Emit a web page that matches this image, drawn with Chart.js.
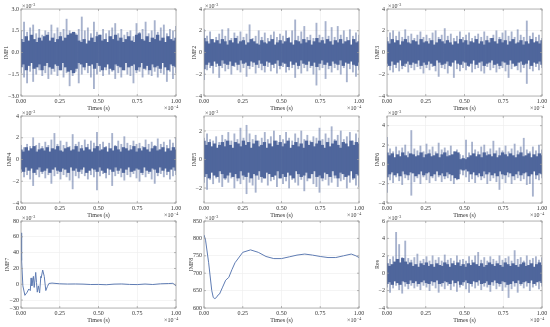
<!DOCTYPE html>
<html>
<head>
<meta charset="utf-8">
<title>IMF decomposition</title>
<script src="https://cdn.jsdelivr.net/npm/chart.js@4"></script>
<style>
  html, body { margin: 0; padding: 0; background: #fff; }
  body { position: relative; width: 550px; height: 327px; overflow: hidden; }
  canvas { position: absolute; }
</style>
</head>
<body>
<script>
// spike tips and dense core of each noisy panel (x10^-3)
const imf1Up = [1.5,2.1,1.4,1.7,1.9,1.3,1.6,1.2,1.5,1.4,1.9,1.3,1.7,1.4,1.6,2.3,1.5,1.1,1.3,1.6,2.45,1.5,1.7,1.3,2.1,1.4,1.2,1.6,1.3,1.5,1.7,2.0,1.3,1.6,1.2,1.4,1.5,1.1,2.0,1.4,1.6,2.1,1.3,1.5,2.2,1.4,1.7,1.9,1.3,1.6,1.5,1.8];
const imf1Lo = [-1.4,-1.7,-2.1,-1.3,-2.0,-1.5,-1.2,-1.6,-1.4,-1.8,-1.5,-1.3,-1.6,-1.2,-1.7,-1.4,-2.3,-1.6,-1.3,-2.1,-1.5,-1.2,-1.4,-1.7,-2.5,-1.5,-1.3,-1.6,-1.2,-1.5,-1.3,-1.8,-1.4,-1.7,-1.2,-1.5,-1.6,-2.1,-1.4,-1.3,-1.7,-1.2,-1.5,-1.6,-1.3,-1.7,-1.4,-1.5,-2.0,-1.3,-1.8,-1.4];
const imf1CoreUp = [0.9,0.7,1.1,0.8,1.2,0.9,0.7,1.0,0.8,1.1,1.2,0.8,1.0,0.7,0.9,1.1,0.8,1.0,1.2,1.3,1.4,1.2,0.8,0.7,0.9,0.6,0.8,1.0,0.7,1.1,1.2,0.8,0.9,0.7,1.1,0.9,1.2,0.8,1.0,0.7,0.9,1.1,0.8,0.7,1.2,1.3,0.9,0.8,1.1,0.7,1.0,0.9,1.2,0.8,1.0,0.7,1.1,0.9,0.8,1.0];
const imf1CoreLo = [-1.0,-0.8,-1.2,-0.9,-0.7,-1.1,-1.0,-0.8,-1.2,-0.9,-0.7,-1.0,-1.1,-0.8,-0.9,-1.2,-0.7,-1.0,-1.3,-1.2,-1.4,-1.1,-0.7,-0.8,-1.0,-0.7,-0.9,-0.8,-1.1,-0.7,-0.9,-1.2,-1.0,-0.8,-1.1,-1.2,-0.8,-0.9,-1.0,-1.2,-0.7,-1.0,-0.9,-0.8,-1.2,-1.0,-0.7,-1.1,-0.9,-1.2,-0.8,-1.0,-0.9,-1.1,-0.7,-1.0,-1.2,-0.8,-0.9,-1.0];

const imf2Up = [2.1,1.5,1.9,1.2,1.4,1.7,2.1,1.5,2.2,1.3,1.8,1.5,1.9,1.4,1.7,2.55,1.3,1.5,2.0,1.4,1.8,1.3,1.6,1.9,1.4,1.7,1.5,2.0,1.4,2.0,3.0,1.5,1.9,2.4,1.4,1.6,1.3,2.7,1.6,1.4,2.85,1.5,2.3,1.4,2.4,1.6,2.0,1.4,2.1,1.5,1.8,1.6];
const imf2Lo = [-2.5,-1.6,-1.4,-1.9,-1.3,-2.3,-1.4,-1.7,-1.5,-2.0,-1.3,-1.6,-1.8,-1.4,-2.2,-1.5,-1.3,-1.9,-1.4,-1.6,-1.8,-1.3,-1.7,-1.4,-1.9,-1.5,-1.3,-1.8,-1.6,-1.4,-2.3,-1.5,-1.9,-1.4,-1.7,-1.4,-2.0,-3.0,-1.6,-1.4,-2.4,-1.5,-1.8,-1.4,-1.6,-2.0,-1.4,-2.7,-1.5,-1.8,-2.2,-1.6];
const imf2CoreUp = [1.3,1.0,0.8,1.2,0.9,1.1,0.8,1.2,1.0,0.7,1.1,0.9,1.3,0.8,1.0,1.1,0.7,0.9,1.2,1.0,0.8,0.7,1.1,0.9,0.8,1.0,1.2,0.7,0.9,1.1,0.8,1.0,1.3,0.9,0.7,1.1,1.0,0.8,1.2,0.9,1.1,0.7,1.0,1.3,0.9,1.1,0.8,1.2,1.0,0.7,1.1,0.9,1.2,0.8,1.0,1.1,0.7,1.2,0.9,1.0];
const imf2CoreLo = [-1.5,-1.1,-0.9,-1.2,-0.8,-1.0,-1.2,-0.7,-1.0,-1.1,-0.8,-1.2,-0.9,-1.1,-0.7,-1.0,-0.9,-1.2,-0.8,-0.9,-1.1,-0.7,-1.0,-1.2,-0.8,-0.9,-1.1,-1.0,-0.7,-1.2,-0.9,-1.0,-1.3,-0.8,-1.1,-0.9,-1.2,-0.7,-1.0,-1.1,-0.8,-1.2,-0.9,-1.3,-1.0,-0.7,-1.1,-0.9,-1.2,-0.8,-1.0,-1.1,-0.7,-1.2,-0.9,-1.0,-0.8,-1.1,-1.2,-0.9];

const imf3Up = [1.4,1.8,2.0,1.5,1.9,1.4,2.1,1.5,1.7,1.3,1.6,1.9,1.4,1.6,1.3,1.8,2.0,1.4,1.6,2.2,1.5,1.7,1.3,1.5,1.9,1.4,1.6,1.8,1.3,1.5,1.7,1.4,1.9,1.5,1.3,1.6,2.0,1.4,1.8,2.0,1.5,1.9,1.4,2.1,1.6,1.4,2.9,1.5,1.8,1.4,1.6,1.3];
const imf3Lo = [-1.3,-1.6,-1.8,-1.4,-1.7,-1.5,-1.3,-1.8,-1.4,-1.6,-1.3,-1.5,-1.9,-1.4,-1.6,-1.3,-1.7,-2.2,-1.4,-1.5,-1.9,-1.3,-2.3,-1.5,-1.7,-1.4,-1.6,-1.3,-1.8,-1.5,-1.4,-1.7,-1.9,-1.3,-1.6,-1.4,-1.8,-1.5,-1.4,-1.7,-2.3,-1.5,-1.3,-1.6,-1.8,-1.4,-2.85,-1.5,-1.7,-1.3,-1.6,-1.4];
const imf3CoreUp = [1.0,0.8,1.2,0.9,1.1,0.7,1.0,1.2,0.9,0.8,1.1,1.0,0.7,1.2,0.9,1.0,0.8,1.1,0.7,0.9,1.2,1.0,0.8,1.1,0.9,0.7,1.0,0.8,1.2,0.9,1.1,0.7,1.0,0.9,1.2,0.8,1.0,0.7,1.1,0.9,1.3,1.0,0.8,1.2,0.9,1.1,0.7,1.0,1.2,0.8,0.9,1.1,0.7,1.0,0.8,1.2,0.9,1.0,0.8,1.1];
const imf3CoreLo = [-1.0,-1.2,-0.8,-1.1,-0.9,-0.7,-1.2,-1.0,-0.8,-1.1,-0.9,-1.0,-0.7,-1.2,-0.9,-1.1,-0.8,-1.0,-1.2,-0.7,-0.9,-1.1,-1.0,-0.8,-1.2,-0.9,-0.7,-1.0,-1.1,-0.8,-0.9,-1.2,-1.0,-0.7,-1.1,-0.9,-0.8,-1.2,-1.0,-0.9,-0.7,-1.1,-1.0,-1.2,-0.8,-0.9,-1.1,-0.7,-1.0,-1.2,-0.9,-0.8,-1.1,-1.0,-0.7,-1.2,-0.9,-1.0,-0.8,-1.1];

const imf4Up = [1.3,1.1,1.4,1.2,2.0,1.3,1.5,1.2,1.6,1.3,1.8,2.4,1.4,1.7,1.3,1.6,1.2,2.3,1.4,1.6,1.3,1.8,1.4,1.7,1.5,2.5,1.4,1.6,1.2,1.5,2.4,1.3,1.7,1.4,2.1,1.5,1.3,1.7,1.4,1.5,1.2,1.8,1.4,1.6,1.3,1.9,1.4,1.6,1.3,1.8,1.5,2.0];
const imf4Lo = [-1.2,-1.6,-1.4,-1.8,-2.4,-1.4,-1.6,-1.3,-1.7,-1.4,-2.2,-1.5,-1.3,-1.8,-1.4,-1.6,-1.9,-2.7,-1.5,-1.7,-1.3,-1.5,-1.8,-1.4,-1.6,-2.8,-1.5,-1.3,-1.7,-1.4,-2.4,-1.5,-1.3,-1.6,-1.9,-1.4,-1.6,-1.3,-1.7,-2.0,-1.4,-1.6,-1.3,-1.8,-2.2,-1.5,-1.3,-1.6,-1.4,-1.8,-1.5,-1.4];
const imf4CoreUp = [0.9,0.7,1.1,0.8,1.0,1.2,0.7,0.9,1.0,0.8,1.1,0.7,1.0,0.9,1.2,0.8,0.7,1.0,1.1,0.8,0.9,1.2,0.7,1.0,0.8,1.1,0.9,0.7,1.0,1.2,0.8,0.9,1.1,0.7,1.0,0.8,1.2,0.9,0.7,1.1,1.0,0.8,0.9,1.2,0.7,1.0,0.8,1.1,0.9,0.7,1.0,1.2,0.8,0.9,1.1,0.7,1.0,0.8,1.1,0.9];
const imf4CoreLo = [-0.9,-1.1,-0.7,-1.0,-0.8,-1.2,-0.9,-0.7,-1.1,-1.0,-0.8,-1.2,-0.9,-0.7,-1.0,-1.1,-0.8,-0.9,-1.2,-0.7,-1.0,-0.8,-1.1,-0.9,-0.7,-1.2,-1.0,-0.8,-0.9,-1.1,-0.7,-1.0,-1.2,-0.8,-0.9,-1.1,-0.7,-1.0,-0.8,-1.2,-0.9,-0.7,-1.1,-1.0,-0.8,-0.9,-1.2,-0.7,-1.0,-1.1,-0.8,-0.9,-1.2,-0.7,-1.0,-0.8,-1.1,-0.9,-0.7,-1.0];

const imf5Up = [1.5,1.8,1.4,1.3,1.6,1.2,1.7,1.4,1.9,1.3,1.8,1.4,2.2,1.5,2.4,1.8,1.4,1.7,1.3,1.5,1.9,1.4,1.6,2.0,1.3,1.7,1.4,1.9,1.5,1.3,1.8,1.5,2.0,1.4,1.7,1.3,1.6,1.5,2.2,1.4,1.8,1.5,2.3,1.4,1.7,2.0,1.4,1.6,1.9,1.3,1.8,1.5];
const imf5Lo = [-1.6,-2.1,-1.4,-1.7,-1.3,-1.6,-1.9,-1.4,-1.6,-1.3,-2.0,-1.5,-1.7,-1.4,-2.4,-1.6,-1.8,-2.3,-1.4,-1.6,-1.3,-1.8,-1.5,-1.4,-1.9,-1.3,-1.7,-1.5,-2.0,-1.4,-1.6,-1.8,-1.4,-2.2,-1.5,-1.3,-1.7,-1.9,-2.3,-1.5,-1.4,-1.8,-1.6,-1.3,-1.9,-1.5,-1.4,-2.0,-1.6,-1.4,-1.8,-1.9];
const imf5CoreUp = [1.3,1.0,1.2,0.9,1.1,0.8,1.0,1.2,0.9,1.3,1.0,0.8,1.2,1.1,0.9,1.3,1.0,1.2,0.8,1.1,1.3,0.9,1.0,1.2,0.8,1.1,0.9,1.3,1.0,1.2,0.9,1.1,1.3,0.8,1.0,1.2,0.9,1.1,0.8,1.3,1.0,1.2,0.9,1.1,1.3,1.0,0.8,1.2,0.9,1.1,1.3,1.0,0.8,1.2,1.1,0.9,1.3,1.0,1.2,1.1];
const imf5CoreLo = [-1.2,-1.0,-1.3,-0.9,-1.1,-1.2,-0.8,-1.0,-1.3,-1.1,-0.9,-1.2,-1.0,-1.3,-0.8,-1.1,-1.2,-0.9,-1.3,-1.0,-1.1,-0.8,-1.2,-1.3,-0.9,-1.0,-1.2,-1.1,-0.8,-1.3,-1.0,-1.2,-0.9,-1.1,-1.3,-0.8,-1.0,-1.2,-1.1,-0.9,-1.3,-1.0,-0.8,-1.2,-1.1,-1.3,-0.9,-1.0,-1.2,-0.8,-1.1,-1.3,-0.9,-1.0,-1.2,-1.1,-0.8,-1.3,-1.0,-1.1];

const imf6Up = [2.8,1.6,1.3,1.8,1.4,1.7,2.0,1.3,3.5,1.6,1.4,1.9,1.3,2.1,1.5,1.8,1.3,2.2,1.5,1.7,1.4,1.9,1.3,1.5,1.0,0.9,2.5,1.2,2.3,1.5,1.3,1.8,2.0,1.3,1.6,2.4,1.4,1.7,1.4,1.9,1.3,1.6,2.1,1.4,1.8,2.7,1.5,1.3,1.8,1.4,2.0,1.5];
const imf6Lo = [-2.9,-1.6,-1.9,-1.3,-1.7,-2.1,-1.4,-1.6,-3.2,-1.8,-1.4,-2.0,-1.3,-1.6,-1.9,-1.4,-1.7,-1.3,-1.8,-1.5,-1.4,-1.7,-2.0,-1.6,-1.0,-1.1,-1.3,-1.8,-1.5,-1.9,-1.3,-1.6,-1.4,-2.0,-1.7,-1.4,-1.8,-2.6,-1.5,-1.9,-1.3,-2.0,-1.6,-1.4,-1.7,-1.5,-2.1,-2.0,-3.3,-1.5,-1.6,-1.4];
const imf6CoreUp = [1.2,0.9,1.1,0.7,1.0,0.8,1.2,0.9,0.7,1.1,1.0,0.8,0.9,1.2,0.7,1.0,1.1,0.8,0.9,1.1,0.7,1.0,1.2,0.8,0.9,1.0,1.3,1.2,0.5,0.6,0.5,0.7,0.9,1.1,0.8,1.0,0.7,1.2,0.9,1.0,0.8,1.1,0.7,0.9,1.2,1.0,0.8,1.1,0.9,0.7,1.0,1.2,0.8,0.9,1.1,0.7,1.0,0.8,1.1,0.9];
const imf6CoreLo = [-1.3,-1.0,-0.8,-1.1,-0.9,-1.2,-0.7,-1.0,-1.1,-0.8,-0.9,-1.2,-1.0,-0.7,-1.1,-0.9,-0.8,-1.2,-1.0,-0.7,-1.1,-0.9,-1.2,-0.8,-1.0,-1.1,-1.4,-1.5,-0.5,-0.6,-0.5,-0.7,-1.0,-0.8,-1.1,-0.9,-1.2,-0.7,-1.0,-0.8,-1.1,-0.9,-1.2,-0.7,-1.0,-1.1,-0.8,-0.9,-1.2,-1.0,-0.7,-1.1,-0.9,-0.8,-1.2,-1.0,-0.7,-1.1,-0.9,-1.0];

const resUp = [1.9,1.6,1.9,4.7,3.3,1.8,3.7,1.7,1.5,1.8,2.2,1.4,1.6,1.9,1.4,2.0,1.5,1.8,1.4,2.1,1.5,1.7,1.4,2.0,1.5,1.6,1.4,1.9,1.5,2.0,2.4,1.5,1.8,1.4,1.9,1.6,1.4,2.0,1.5,1.7,1.9,1.4,2.6,1.6,1.8,1.4,2.0,1.5,1.7,1.9,1.5,1.8];
const resLo = [-1.6,-2.2,-1.7,-1.4,-1.9,-2.3,-1.5,-1.8,-1.4,-1.7,-1.5,-1.9,-1.4,-1.6,-2.0,-1.4,-1.7,-2.2,-1.5,-1.8,-1.4,-1.9,-1.5,-2.1,-1.6,-1.4,-1.8,-2.2,-1.5,-1.7,-1.4,-1.9,-1.5,-1.6,-2.1,-1.4,-1.8,-1.5,-2.0,-1.6,-2.8,-1.8,-1.5,-2.2,-1.4,-1.7,-1.5,-2.0,-1.6,-1.4,-1.8,-1.5];
const resCoreUp = [1.1,0.8,1.0,1.3,1.6,1.2,1.7,1.3,1.0,1.2,0.8,1.0,0.7,1.1,0.9,1.2,0.8,1.0,0.7,1.1,0.9,0.8,1.2,1.0,0.7,1.1,0.9,1.2,0.8,1.0,0.7,1.1,0.9,1.2,1.0,0.8,1.1,0.7,0.9,1.2,1.0,0.8,1.1,0.9,0.7,1.2,1.0,0.8,1.1,0.9,0.7,1.0,1.2,0.8,0.9,1.1,0.7,1.0,1.2,0.9];
const resCoreLo = [-1.2,-1.0,-1.3,-0.9,-1.1,-1.3,-0.9,-1.0,-1.2,-0.8,-1.1,-0.9,-1.2,-1.0,-0.8,-1.1,-1.2,-0.9,-1.0,-0.8,-1.2,-1.1,-0.9,-1.0,-1.2,-0.8,-1.1,-0.9,-1.3,-1.0,-0.8,-1.1,-1.2,-0.9,-1.0,-0.8,-1.2,-1.1,-0.9,-1.3,-1.0,-0.8,-1.1,-1.2,-0.9,-1.0,-1.3,-1.2,-0.9,-1.1,-0.8,-1.2,-1.0,-0.9,-1.1,-0.8,-1.2,-1.0,-0.9,-1.1];

// the two smooth panels
const imf7Times = [0,0.004,0.012,0.025,0.04,0.05,0.06,0.065,0.07,0.08,0.085,0.095,0.1,0.105,0.112,0.12,0.128,0.13,0.14,0.15,0.16,0.17,0.18,0.2,0.25,0.3,0.35,0.4,0.45,0.5,0.55,0.6,0.65,0.7,0.75,0.8,0.85,0.9,0.95,0.98,1];
const imf7Values = [65,30,-2,-14,-10,-6,-8,8,-2,10,-4,15,2,-10,-2,-11,10,8,18,10,-8,-3,1,1.5,0.6,0.3,0.4,0.2,-0.3,-0.2,-0.6,0.2,0.4,-0.2,-0.4,0.3,-0.3,0.6,0.9,1.2,-2];
const imf8Times = [0,0.01,0.03,0.05,0.06,0.07,0.08,0.09,0.1,0.12,0.14,0.16,0.18,0.2,0.25,0.3,0.35,0.4,0.45,0.5,0.55,0.6,0.65,0.7,0.75,0.8,0.85,0.9,0.95,0.98,1];
const imf8Values = [810,795,730,650,630,627,630,637,640,660,680,688,710,730,760,767,760,748,742,742,747,752,755,752,748,745,745,750,755,750,745];

const xTicks = [0, 0.25, 0.5, 0.75, 1];
const panelLefts = [0, 183, 366];
const panelTops = [0, 107, 212];
const blue = '#4f669c';
const lightBlue = '#5f7cb3';
const spikeBlue = 'rgba(79,102,156,0.5)';
const serif = '"Liberation Serif", "Times New Roman", serif';
const textColor = '#333';

function rangeBars(up, lo) {
    return up.map((v, i) => ({ x: i / (up.length - 1), y: [lo[i], v] }));
}

function pairPoints(times, values) {
    return times.map((t, i) => ({ x: t, y: values[i] }));
}

// frame, small inward ticks and the x10^n labels
const framePlugin = {
    id: 'frame',
    afterDraw(chart) {
        const ctx = chart.ctx;
        const a = chart.chartArea;
        ctx.save();
        ctx.strokeStyle = '#9a9a9a';
        ctx.lineWidth = 0.7;
        ctx.strokeRect(a.left, a.top, a.right - a.left, a.bottom - a.top);
        ctx.beginPath();
        chart.scales.x.ticks.forEach(t => {
            const px = chart.scales.x.getPixelForValue(t.value);
            ctx.moveTo(px, a.bottom); ctx.lineTo(px, a.bottom - 2);
            ctx.moveTo(px, a.top); ctx.lineTo(px, a.top + 2);
        });
        chart.scales.y.ticks.forEach(t => {
            const py = chart.scales.y.getPixelForValue(t.value);
            ctx.moveTo(a.left, py); ctx.lineTo(a.left + 2, py);
            ctx.moveTo(a.right, py); ctx.lineTo(a.right - 2, py);
        });
        ctx.stroke();
        ctx.fillStyle = textColor;
        ctx.textAlign = 'left';
        ctx.textBaseline = 'alphabetic';
        ctx.font = '6px ' + serif;
        ctx.fillText('×10', a.left + 1, a.top - 1);
        ctx.fillText('×10', a.right - 12, a.bottom + 14);
        ctx.font = '4px ' + serif;
        ctx.fillText('−3', a.left + 10, a.top - 3);
        ctx.fillText('−4', a.right - 2, a.bottom + 12);
        ctx.restore();
    }
};

function createPanel(col, row, title, titleGap, datasets, yMin, yMax, yStep, yDigits, yBounds) {
    const canvas = document.createElement('canvas');
    canvas.width = 185;
    canvas.height = 112;
    canvas.style.left = panelLefts[col] + 'px';
    canvas.style.top = panelTops[row] + 'px';
    document.body.appendChild(canvas);

    const gridLine = { color: '#ececec', lineWidth: 0.6, drawTicks: false };
    new Chart(canvas, {
        type: 'line',
        data: { datasets: datasets },
        options: {
            responsive: false,
            animation: false,
            layout: { padding: { top: 9, right: 9, left: 0, bottom: 0 } },
            elements: { point: { radius: 0 } },
            plugins: { legend: { display: false }, tooltip: { enabled: false } },
            scales: {
                x: {
                    type: 'linear',
                    offset: false,
                    min: 0,
                    max: 1,
                    grid: Object.assign({ offset: false }, gridLine),
                    border: { display: false },
                    afterBuildTicks: s => { s.ticks = xTicks.map(v => ({ value: v })); },
                    afterFit: s => { s.height = 16; },
                    ticks: {
                        color: textColor,
                        padding: 2,
                        maxRotation: 0,
                        font: { family: serif, size: 6 },
                        callback: v => v.toFixed(2)
                    },
                    title: { display: true, text: 'Times (s)', color: textColor, padding: 0, font: { family: serif, size: 6 } }
                },
                y: {
                    min: yMin,
                    max: yMax,
                    grid: gridLine,
                    border: { display: false },
                    afterFit: s => { s.width = 21; },
                    ticks: {
                        stepSize: yStep,
                        includeBounds: yBounds,
                        color: textColor,
                        padding: 2,
                        font: { family: serif, size: 6 },
                        callback: v => v.toFixed(yDigits).replace('-', '−')
                    },
                    title: { display: true, text: title, color: textColor, padding: titleGap, font: { family: serif, size: 6 } }
                }
            }
        },
        plugins: [framePlugin]
    });
}

function noiseSets(up, lo, coreUp, coreLo) {
    return [
        { type: 'bar', data: rangeBars(coreUp, coreLo), backgroundColor: blue, barThickness: 2.7, grouped: false, order: 1 },
        { type: 'bar', data: rangeBars(up, lo), backgroundColor: spikeBlue, barThickness: 1.2, grouped: false, order: 2 }
    ];
}

function curveSet(times, values) {
    return [{ data: pairPoints(times, values), borderColor: lightBlue, borderWidth: 1, tension: 0 }];
}

createPanel(0, 0, 'IMF1', 2.4, noiseSets(imf1Up, imf1Lo, imf1CoreUp, imf1CoreLo), -3, 3, 1.5, 1, true);
createPanel(1, 0, 'IMF2', 7.4, noiseSets(imf2Up, imf2Lo, imf2CoreUp, imf2CoreLo), -4, 4, 2, 0, true);
createPanel(2, 0, 'IMF3', 7.4, noiseSets(imf3Up, imf3Lo, imf3CoreUp, imf3CoreLo), -4, 4, 2, 0, true);
createPanel(0, 1, 'IMF4', 6, noiseSets(imf4Up, imf4Lo, imf4CoreUp, imf4CoreLo), -4, 4, 2, 0, true);
createPanel(1, 1, 'IMF5', 7.4, noiseSets(imf5Up, imf5Lo, imf5CoreUp, imf5CoreLo), -3.05, 3.05, 2, 0, false);
createPanel(2, 1, 'IMF6', 7.4, noiseSets(imf6Up, imf6Lo, imf6CoreUp, imf6CoreLo), -4, 5, 2, 0, false);
createPanel(0, 2, 'IMF7', 3.5, curveSet(imf7Times, imf7Values), -30, 80, 20, 0, true);
createPanel(1, 2, 'IMF8', 4.4, curveSet(imf8Times, imf8Values), 600, 850, 50, 0, true);
createPanel(2, 2, 'Res', 7.4, noiseSets(resUp, resLo, resCoreUp, resCoreLo), -4, 6, 2, 0, true);
</script>
</body>
</html>
